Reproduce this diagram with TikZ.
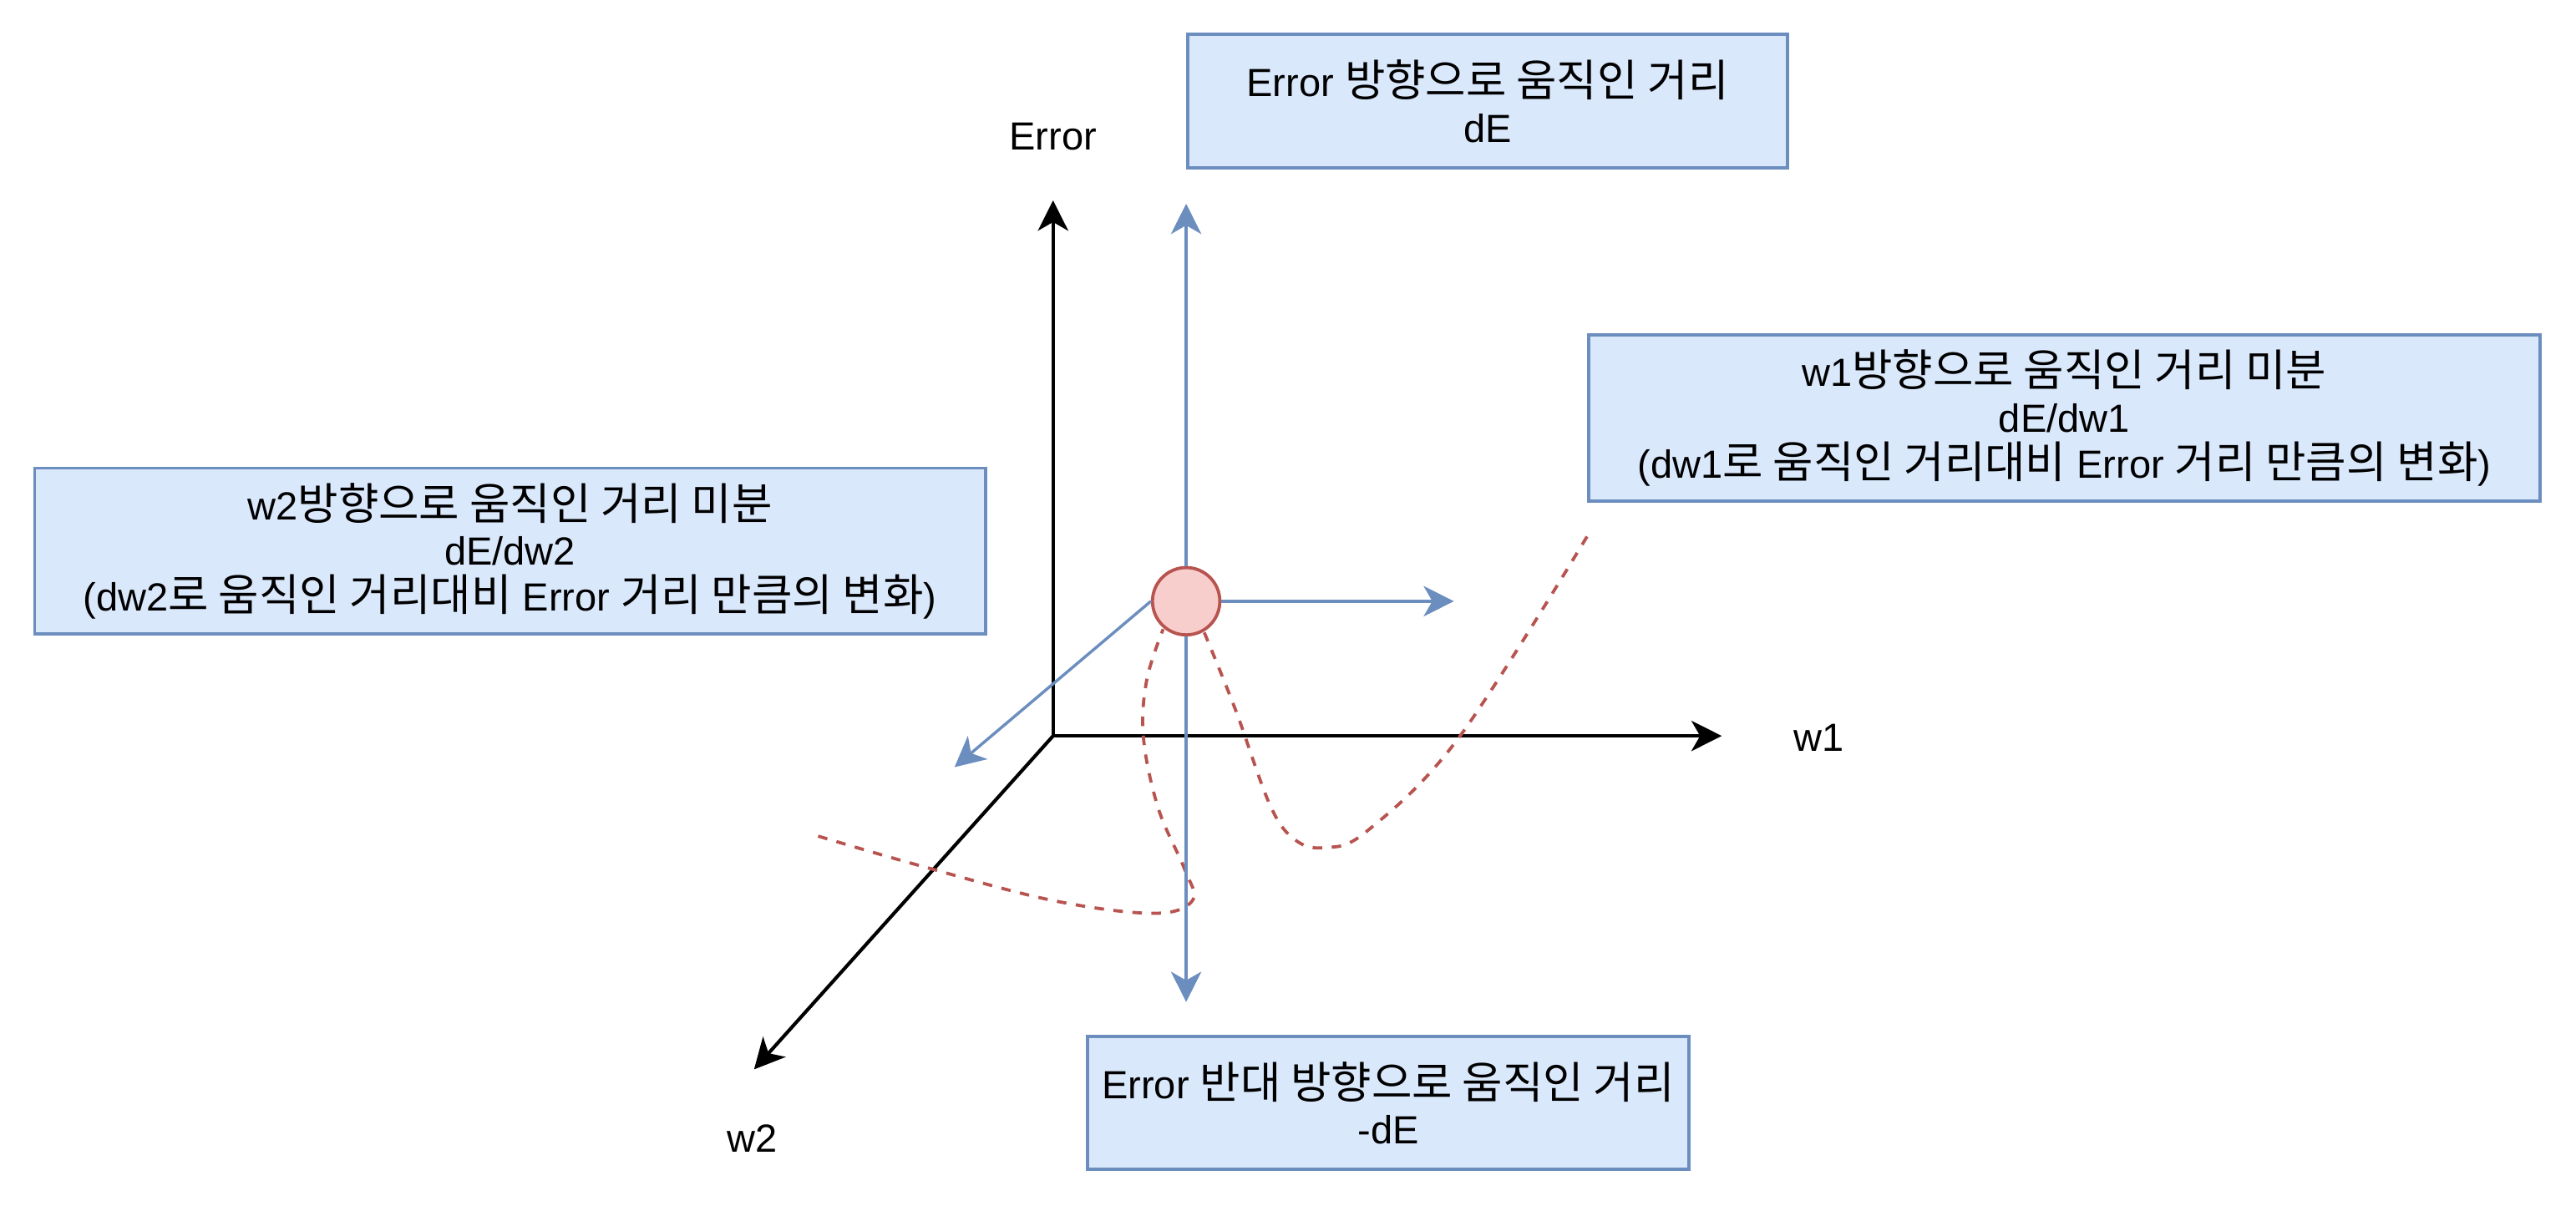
\documentclass[tikz,border=0pt]{standalone}
\usepackage{fontspec}
\usepackage{tikz}
\usetikzlibrary{arrows.meta}
\setmainfont{Liberation Sans}
\newfontfamily\kr[Scale=1.12]{Noto Sans CJK KR}
\definecolor{boxfill}{HTML}{DAE8FC}
\definecolor{boxline}{HTML}{6C8EBF}
\definecolor{ptfill}{HTML}{F8CECC}
\definecolor{ptline}{HTML}{B85450}

\begin{document}
\begin{tikzpicture}[x=0.02cm, y=-0.02cm,
        font=\fontsize{13.6}{15.9}\selectfont,
        tip/.style={-{Stealth[length=10.5pt, width=10.5pt, inset=3pt]}},
        axis/.style={tip, draw=black, line width=1.2pt},
        move/.style={tip, draw=boxline, line width=1pt},
        infobox/.style={draw=boxline, fill=boxfill, line width=1.1pt, align=center, inner sep=0pt},
        path/.style={draw=ptline, line width=1.1pt, dash pattern=on 3.3pt off 3.3pt}]
        \useasboundingbox (0,0) rectangle (1568,734);

        % text boxes
        \node [infobox, minimum width=7.3cm, minimum height=1.62cm] (up) at (905.5,61.5) {Error {\kr 방향으로 움직인 거리}\\dE};
        \node [infobox, minimum width=7.32cm, minimum height=1.62cm] (down) at (845,671.5) {Error {\kr 반대 방향으로 움직인 거리}\\-dE};
        \node [infobox, minimum width=11.58cm, minimum height=2.02cm] (left) at (310.5,335.5) {w2{\kr 방향으로 움직인 거리 미분}\\dE/dw2\\(dw2{\kr 로 움직인 거리대비} Error {\kr 거리 만큼의 변화})};
        \node [infobox, minimum width=11.58cm, minimum height=2.02cm] (right) at (1256.5,254.5) {w1{\kr 방향으로 움직인 거리 미분}\\dE/dw1\\(dw1{\kr 로 움직인 거리대비} Error {\kr 거리 만큼의 변화})};

        % axes
        \coordinate (o) at (641,448);
        \coordinate (etip) at (641,122);
        \coordinate (w1tip) at (1048,448);
        \coordinate (w2tip) at (459,651);
        \draw [axis] (o) -- (etip);
        \draw [axis] (o) -- (w1tip);
        \draw [axis] (o) -- (w2tip);
        \node (elabel) at (641,83) {Error};
        \node (w1label) at (1107,449) {w1};
        \node (w2label) at (458,693) {w2};

        % error curves
        \draw [path] plot [smooth, tension=0.6] coordinates {(498,509) (560,527) (640,548) (702,556) (726,548) (721,529) (705,492) (696,449) (698,414) (708,383)};
        \draw [path] plot [smooth, tension=0.6] coordinates {(733,385) (752,432) (773,490) (788,511) (806,516) (832,506) (888,449) (967,325)};

        % point and its moves
        \node [circle, draw=ptline, fill=ptfill, line width=1.1pt, minimum size=0.82cm, inner sep=0pt] (pt) at (722,366) {};
        \coordinate (uptip) at (722,124);
        \coordinate (downtip) at (722,610);
        \coordinate (righttip) at (885,366);
        \coordinate (lefttip) at (581,467);
        \draw [move] (pt.north) -- (uptip);
        \draw [move] (pt.south) -- (downtip);
        \draw [move] (pt.east) -- (righttip);
        \draw [move] (pt.west) -- (lefttip);
\end{tikzpicture}
\end{document}
